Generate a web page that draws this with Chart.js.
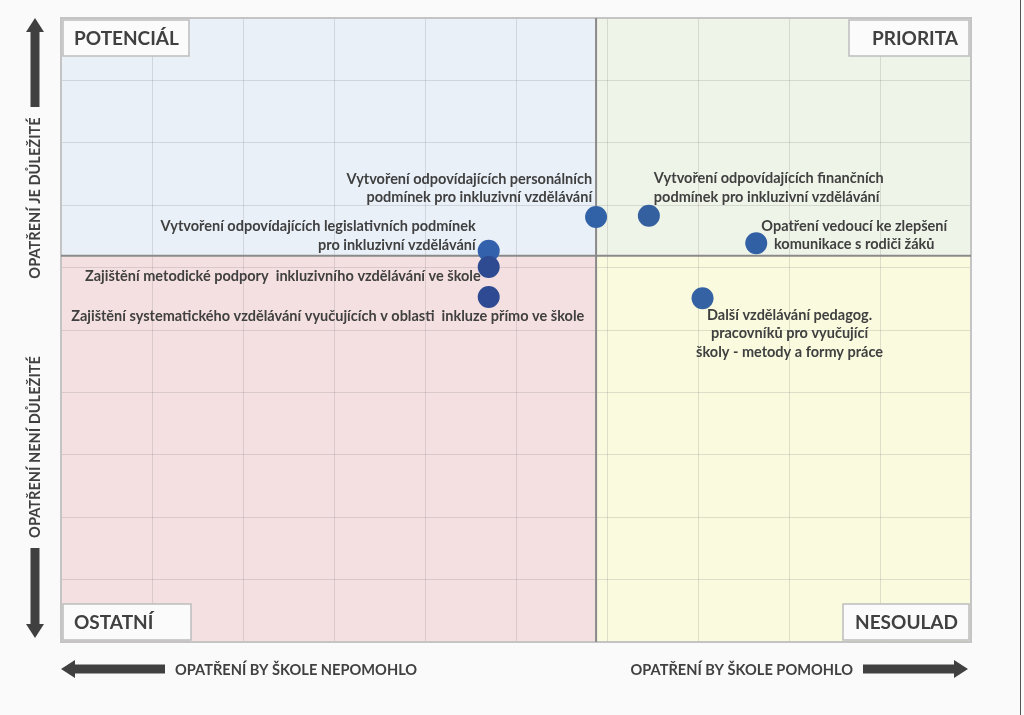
<!DOCTYPE html>
<html>
<head>
<meta charset="utf-8">
<script src="https://cdn.jsdelivr.net/npm/chart.js@4/dist/chart.umd.min.js"></script>
<style>
  html, body { margin: 0; padding: 0; background: #fafafa; }
  #obal { width: 1024px; height: 715px; }
</style>
</head>
<body>
<div id="obal"><canvas id="matice" width="1024" height="715"></canvas></div>
<script>
// opatření a jejich hodnocení
const opatreni = [
  "Vytvoření odpovídajících personálních podmínek pro inkluzivní vzdělávání",
  "Vytvoření odpovídajících finančních podmínek pro inkluzivní vzdělávání",
  "Vytvoření odpovídajících legislativních podmínek pro inkluzivní vzdělávání",
  "Zajištění metodické podpory inkluzivního vzdělávání ve škole",
  "Zajištění systematického vzdělávání vyučujících v oblasti inkluze přímo ve škole",
  "Opatření vedoucí ke zlepšení komunikace s rodiči žáků",
  "Další vzdělávání pedagog. pracovníků pro vyučující školy - metody a formy práce"
];
const popisky = [
  ["Vytvoření odpovídajících personálních", "podmínek pro inkluzivní vzdělávání"],
  ["Vytvoření odpovídajících finančních", "podmínek pro inkluzivní vzdělávání"],
  ["Vytvoření odpovídajících legislativních podmínek", "pro inkluzivní vzdělávání"],
  ["Zajištění metodické podpory  inkluzivního vzdělávání ve škole"],
  ["Zajištění systematického vzdělávání vyučujících v oblasti  inkluze přímo ve škole"],
  ["Opatření vedoucí ke zlepšení", "komunikace s rodiči žáků"],
  ["Další vzdělávání pedagog.", "pracovníků pro vyučující", "školy - metody a formy práce"]
];
const pomohlo = [5.88, 6.46, 4.70, 4.70, 4.70, 7.64, 7.05];
const dulezite = [6.81, 6.83, 6.27, 6.01, 5.53, 6.39, 5.51];
const osaMin = 0, osaMax = 10, krok = 1;
const hraniceX = 5.88, hraniceY = 6.19;
const kvadranty = ["POTENCIÁL", "PRIORITA", "OSTATNÍ", "NESOULAD"];

// rozmístění popisků kolem bodů (pixely)
const umisteni = [
  { align: "right", dx: -4, dy: -38 },
  { align: "left", dx: 5, dy: -37 },
  { align: "right", dx: -13, dy: -24 },
  { align: "right", dx: -8, dy: 9 },
  { align: "center", dx: -161, dy: 19 },
  { align: "center", dx: 98, dy: -17 },
  { align: "center", dx: 87, dy: 17 }
];
// šířky rámečků kvadrantů
const sirkyRamecku = [126, 120, 128, 126];

const pismo = "Lato, 'Open Sans', sans-serif";
const tmava = "#404040";

function sipka(ctx, x1, y1, x2, y2) {
  // tlustá šipka z (x1,y1) do (x2,y2)
  let uhel = Math.atan2(y2 - y1, x2 - x1);
  let delka = Math.hypot(x2 - x1, y2 - y1);
  ctx.save();
  ctx.translate(x1, y1);
  ctx.rotate(uhel);
  ctx.fillStyle = tmava;
  ctx.fillRect(0, -4.5, delka - 13, 9);
  ctx.beginPath();
  ctx.moveTo(delka, 0);
  ctx.lineTo(delka - 14, -9);
  ctx.lineTo(delka - 14, 9);
  ctx.closePath();
  ctx.fill();
  ctx.restore();
}

const maticePlugin = {
  id: "matice",
  beforeDraw(chart) {
    let { ctx, chartArea: a, scales: { x, y } } = chart;
    ctx.save();
    ctx.fillStyle = "#fafafa";
    ctx.fillRect(0, 0, chart.width, chart.height);
    let mx = x.getPixelForValue(hraniceX), my = y.getPixelForValue(hraniceY);
    ctx.fillStyle = "rgb(233,240,248)";
    ctx.fillRect(a.left, a.top, mx - a.left, my - a.top);
    ctx.fillStyle = "rgb(239,244,233)";
    ctx.fillRect(mx, a.top, a.right - mx, my - a.top);
    ctx.fillStyle = "rgb(245,224,225)";
    ctx.fillRect(a.left, my, mx - a.left, a.bottom - my);
    ctx.fillStyle = "rgb(250,250,223)";
    ctx.fillRect(mx, my, a.right - mx, a.bottom - my);
    ctx.restore();
  },
  beforeDatasetsDraw(chart) {
    let { ctx, chartArea: a, scales: { x, y } } = chart;
    let mx = x.getPixelForValue(hraniceX), my = y.getPixelForValue(hraniceY);
    ctx.save();
    ctx.strokeStyle = "#c4c4c4";
    ctx.lineWidth = 2;
    ctx.strokeRect(a.left, a.top, a.right - a.left, a.bottom - a.top);
    ctx.strokeStyle = "#8a8a8a";
    ctx.beginPath();
    ctx.moveTo(mx, a.top); ctx.lineTo(mx, a.bottom);
    ctx.moveTo(a.left, my); ctx.lineTo(a.right, my);
    ctx.stroke();
    ctx.restore();
  },
  afterDatasetsDraw(chart) {
    let { ctx, chartArea: a, scales: { x, y } } = chart;
    ctx.save();
    // popisky bodů
    ctx.font = "bold 14.5px " + pismo;
    ctx.fillStyle = tmava;
    ctx.textBaseline = "middle";
    popisky.forEach((radky, i) => {
      let px = x.getPixelForValue(pomohlo[i]);
      let py = y.getPixelForValue(dulezite[i]);
      let u = umisteni[i];
      ctx.textAlign = u.align;
      radky.forEach((r, j) => ctx.fillText(r, px + u.dx, py + u.dy + j * 18.5));
    });
    // rámečky kvadrantů
    ctx.font = "bold 19px " + pismo;
    kvadranty.forEach((t, i) => {
      let w = sirkyRamecku[i], h = 36;
      let vlevo = i % 2 === 0;
      let bx = vlevo ? a.left + 2 : a.right - 2 - w;
      let by = i < 2 ? a.top + 2 : a.bottom - 2 - h;
      ctx.fillStyle = "#fbfbfb";
      ctx.fillRect(bx, by, w, h);
      ctx.strokeStyle = "#bdbdbd";
      ctx.lineWidth = 1.5;
      ctx.strokeRect(bx, by, w, h);
      ctx.fillStyle = tmava;
      ctx.textAlign = vlevo ? "left" : "right";
      ctx.fillText(t, vlevo ? bx + 11 : bx + w - 11, by + h / 2 + 1);
    });
    // popisky os a šipky
    ctx.font = "bold 14.6px " + pismo;
    ctx.fillStyle = tmava;
    sipka(ctx, 35, 107, 35, 18);
    sipka(ctx, 35, 548, 35, 638);
    sipka(ctx, 165, 669, 61, 669);
    sipka(ctx, 863, 669, 968, 669);
    ctx.textAlign = "left";
    ctx.fillText("OPATŘENÍ BY ŠKOLE NEPOMOHLO", 175, 670);
    ctx.textAlign = "right";
    ctx.fillText("OPATŘENÍ BY ŠKOLE POMOHLO", 853, 670);
    ctx.save();
    ctx.translate(35, 198);
    ctx.rotate(-Math.PI / 2);
    ctx.textAlign = "center";
    ctx.fillText("OPATŘENÍ JE DŮLEŽITÉ", 0, 0);
    ctx.restore();
    ctx.save();
    ctx.translate(35, 447);
    ctx.rotate(-Math.PI / 2);
    ctx.textAlign = "center";
    ctx.fillText("OPATŘENÍ NENÍ DŮLEŽITÉ", 0, 0);
    ctx.restore();
    // okraj obrázku
    ctx.fillStyle = "#555";
    ctx.fillRect(1020, 0, 1, chart.height);
    ctx.restore();
  }
};

const mrizka = {
  color: "rgba(110,110,110,0.2)",
  lineWidth: 1,
  drawTicks: false
};

new Chart(document.getElementById("matice"), {
  type: "scatter",
  data: {
    datasets: [{
      label: "Opatření",
      data: opatreni.map((n, i) => ({ x: pomohlo[i], y: dulezite[i] })),
      pointRadius: 11,
      pointHoverRadius: 11,
      pointBorderWidth: 0,
      pointBackgroundColor: ["#3161a6", "#34609f", "#3361ab", "#2e4a90", "#2e4a92", "#3260a4", "#3562a2"]
    }]
  },
  options: {
    responsive: false,
    animation: false,
    layout: { padding: { left: 61, top: 18, right: 53, bottom: 73 } },
    plugins: { legend: { display: false }, tooltip: { enabled: false } },
    scales: {
      x: {
        min: osaMin, max: osaMax,
        ticks: { display: false, stepSize: krok },
        grid: mrizka,
        border: { display: false }
      },
      y: {
        min: osaMin, max: osaMax,
        ticks: { display: false, stepSize: krok },
        grid: mrizka,
        border: { display: false }
      }
    }
  },
  plugins: [maticePlugin]
});
</script>
</body>
</html>
